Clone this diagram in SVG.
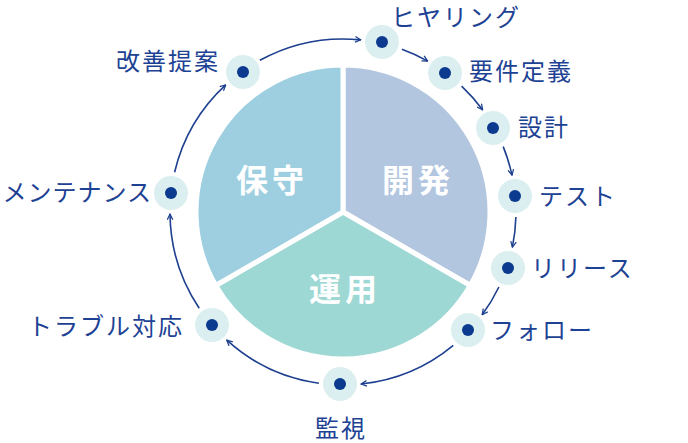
<svg xmlns="http://www.w3.org/2000/svg" width="688" height="443" viewBox="0 0 688 443">
<style>
.lbl{font-family:"Noto Sans CJK JP","Noto Sans",sans-serif;font-size:24px;letter-spacing:2px;fill:#1d4294}
.big{font-family:"Noto Sans CJK JP",sans-serif;font-size:32px;font-weight:bold;letter-spacing:4px;fill:#fff}
.halo{fill:#dceff0}
.dot{fill:#0b3a8f}
.arc{fill:none;stroke:#1d3f8f;stroke-width:1.6;marker-end:url(#ah)}
</style>
<defs>
<marker id="ah" viewBox="0 0 10 10" refX="9" refY="5" markerWidth="7" markerHeight="7" orient="auto" markerUnits="userSpaceOnUse">
<path d="M1,1 L9,5 L1,9" fill="none" stroke="#1d3f8f" stroke-width="1.8"/>
</marker>
</defs>
<g id="pie" stroke="#fff" stroke-width="5">
<path d="M343,212 L343,65 A147,147 0 0 1 470.3,285.5 Z" fill="#b3c6df"/>
<path d="M343,212 L470.3,285.5 A147,147 0 0 1 215.7,285.5 Z" fill="#9dd8d4"/>
<path d="M343,212 L215.7,285.5 A147,147 0 0 1 343,65 Z" fill="#9dcfe0"/>
</g>
<text class="big" x="272" y="192" text-anchor="middle">保守</text>
<text class="big" x="418" y="192" text-anchor="middle">開発</text>
<text class="big" x="345" y="301" text-anchor="middle">運用</text>
<g id="connectors">
<path class="arc" d="M401.9,49.3 A173,173 0 0 1 427.7,61.1"/>
<path class="arc" d="M461.6,86.1 A173,173 0 0 1 482.6,109.8"/>
<path class="arc" d="M503.2,146.6 A173,173 0 0 1 512.0,175.2"/>
<path class="arc" d="M515.9,217.1 A173,173 0 0 1 512.4,247.1"/>
<path class="arc" d="M498.9,287.0 A173,173 0 0 1 482.2,314.7"/>
<path class="arc" d="M453.3,345.3 A173,173 0 0 1 361.1,384.0"/>
<path class="arc" d="M318.9,383.3 A173,173 0 0 1 226.8,340.2"/>
<path class="arc" d="M199.2,308.2 A173,173 0 0 1 170.0,214.1"/>
<path class="arc" d="M174.6,172.2 A173,173 0 0 1 225.7,84.9"/>
<path class="arc" d="M259.9,60.3 A173,173 0 0 1 360.8,39.9"/>
</g>
<g id="n1"><circle class="halo" cx="382" cy="42" r="17"/><circle class="dot" cx="382" cy="42" r="6"/><text class="lbl" x="391" y="26">ヒヤリング</text></g>
<g id="n2"><circle class="halo" cx="445" cy="73" r="17"/><circle class="dot" cx="445" cy="73" r="6"/><text class="lbl" x="469" y="80">要件定義</text></g>
<g id="n3"><circle class="halo" cx="493" cy="128" r="17"/><circle class="dot" cx="493" cy="128" r="6"/><text class="lbl" x="518" y="136">設計</text></g>
<g id="n4"><circle class="halo" cx="515" cy="196" r="17"/><circle class="dot" cx="515" cy="196" r="6"/><text class="lbl" x="539" y="205">テスト</text></g>
<g id="n5"><circle class="halo" cx="508" cy="268" r="17"/><circle class="dot" cx="508" cy="268" r="6"/><text class="lbl" x="531" y="277">リリース</text></g>
<g id="n6"><circle class="halo" cx="468" cy="330" r="17"/><circle class="dot" cx="468" cy="330" r="6"/><text class="lbl" x="490" y="339">フォロー</text></g>
<g id="n7"><circle class="halo" cx="340" cy="384" r="17"/><circle class="dot" cx="340" cy="384" r="6"/><text class="lbl" x="341" y="437" text-anchor="middle">監視</text></g>
<g id="n8"><circle class="halo" cx="212" cy="325" r="17"/><circle class="dot" cx="212" cy="325" r="6"/><text class="lbl" x="184" y="335" text-anchor="end">トラブル対応</text></g>
<g id="n9"><circle class="halo" cx="171" cy="193" r="17"/><circle class="dot" cx="171" cy="193" r="6"/><text class="lbl" x="152" y="201" text-anchor="end" style="letter-spacing:1px">メンテナンス</text></g>
<g id="n10"><circle class="halo" cx="243" cy="72" r="17"/><circle class="dot" cx="243" cy="72" r="6"/><text class="lbl" x="220" y="70" text-anchor="end">改善提案</text></g>
</svg>
